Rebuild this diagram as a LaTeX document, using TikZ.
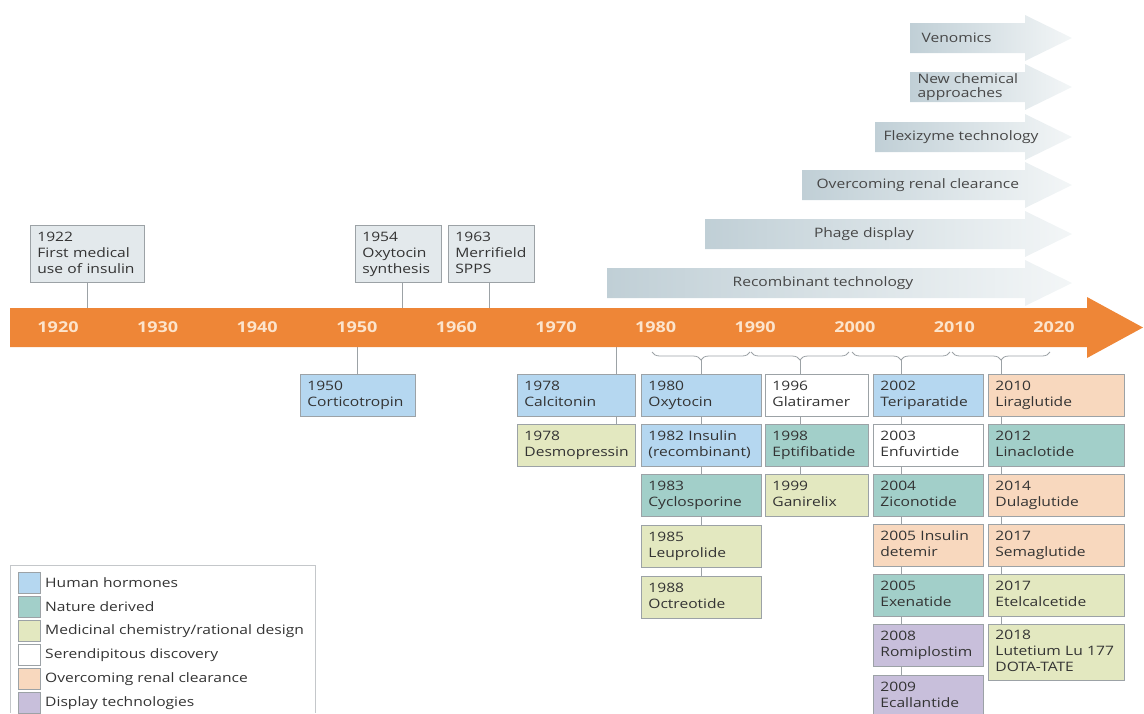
\documentclass[tikz,border=0pt]{standalone}
\usepackage{fontspec}
\setmainfont[FakeStretch=1.2]{Open Sans}
\usetikzlibrary{decorations.pathreplacing}
\pgfdeclarelayer{background}
\pgfsetlayers{background,main}
\hyphenpenalty=10000
\exhyphenpenalty=10000
\definecolor{hh}{HTML}{B5D7F0}
\definecolor{nd}{HTML}{A2CFC9}
\definecolor{mc}{HTML}{E3E8C0}
\definecolor{sd}{HTML}{FFFFFF}
\definecolor{rc}{HTML}{F8D8BE}
\definecolor{dt}{HTML}{C8BFDB}
\definecolor{tb}{HTML}{E3E9EC}
\definecolor{bord}{HTML}{9CA2A6}
\definecolor{orng}{HTML}{EE8637}
\definecolor{yr}{HTML}{FCE4CC}
\definecolor{txt}{HTML}{333333}
\definecolor{techL}{HTML}{C0CFD6}
\definecolor{techR}{HTML}{F3F6F7}
\begin{document}
\begin{tikzpicture}[x=1pt,y=-1pt,
  font=\fontsize{13}{16}\selectfont, text=txt,
  pbox/.style={draw=bord, line width=0.8pt, anchor=north west, align=left,
    inner xsep=7pt, inner ysep=3pt, minimum height=42pt,
    execute at begin node=\strut, execute at end node=\strut},
  topbox/.style={pbox, fill=tb, minimum height=57pt},
  conn/.style={draw=bord, line width=0.8pt},
  brc/.style={decorate, decoration={brace, amplitude=8pt, mirror}, draw=bord, line width=0.8pt},
  yrlab/.style={text=yr, font=\fontsize{15}{16}\selectfont\bfseries},
  techarrow/.style={left color=techL, right color=techR},
  techtext/.style={text=txt!90},
  swatch/.style={draw=bord, line width=0.6pt, minimum width=22pt, minimum height=21pt, inner sep=0pt},
  legtext/.style={anchor=west, inner sep=0pt}]
\useasboundingbox (0,0) rectangle (1144,713);

% technology arrows
\shade[techarrow] (910,23) -- (1025,23) -- (1025,15) -- (1072,38) -- (1025,61) -- (1025,53) -- (910,53) -- cycle;
\node[techtext, anchor=west] (venom) at (918,38) {Venomics};
\shade[techarrow] (910,72) -- (1025,72) -- (1025,64) -- (1072,87) -- (1025,110) -- (1025,102) -- (910,102) -- cycle;
\node[techtext, anchor=west, align=left, font=\fontsize{13}{14}\selectfont] (newchem) at (914,87) {New chemical\\approaches};
\shade[techarrow] (875,122) -- (1025,122) -- (1025,114) -- (1072,137) -- (1025,160) -- (1025,152) -- (875,152) -- cycle;
\node[techtext, anchor=west] (flexi) at (880,137) {Flexizyme technology};
\shade[techarrow] (802,170) -- (1025,170) -- (1025,162) -- (1072,185) -- (1025,208) -- (1025,200) -- (802,200) -- cycle;
\node[techtext, anchor=west] (renal) at (813,185) {Overcoming renal clearance};
\shade[techarrow] (705,219) -- (1025,219) -- (1025,211) -- (1072,234) -- (1025,257) -- (1025,249) -- (705,249) -- cycle;
\node[techtext] (phage) at (864,234) {Phage display};
\shade[techarrow] (607,268) -- (1025,268) -- (1025,260) -- (1072,283) -- (1025,306) -- (1025,298) -- (607,298) -- cycle;
\node[techtext] (recomb) at (823,283) {Recombinant technology};

% timeline arrow
\fill[orng] (10,308) -- (1087,308) -- (1087,297) -- (1143,327.5) -- (1087,358) -- (1087,347) -- (10,347) -- cycle;
\foreach \y [count=\i from 0] in {1920,1930,1940,1950,1960,1970,1980,1990,2000,2010,2020}
  \node[yrlab] (y\y) at (58+99.6*\i,327.5) {\y};

% top boxes
\node[topbox, text width=100pt] (t1922) at (30,225) {1922\\First medical\\use of insulin};
\node[topbox, text width=72pt] (t1954) at (355,225) {1954\\Oxytocin\\synthesis};
\node[topbox, text width=72pt] (t1963) at (448,225) {1963\\Merrifield\\SPPS};
\coordinate (a1922) at (87,308);
\coordinate (a1954) at (402,308);
\coordinate (a1963) at (489,308);

% lower boxes
\node[pbox, fill=hh, text width=101pt] (b1950) at (300,374) {1950\\Corticotropin};

\node[pbox, fill=hh, text width=104pt] (c1a) at (517,374) {1978\\Calcitonin};
\node[pbox, fill=mc, text width=104pt] (c1b) at (517,424) {1978\\Desmopressin};

\node[pbox, fill=hh, text width=106pt] (c2a) at (641,374) {1980\\Oxytocin};
\node[pbox, fill=hh, text width=106pt] (c2b) at (641,424) {1982 Insulin\\(recombinant)};
\node[pbox, fill=nd, text width=106pt] (c2c) at (641,474) {1983\\Cyclosporine};
\node[pbox, fill=mc, text width=106pt] (c2d) at (641,525) {1985\\Leuprolide};
\node[pbox, fill=mc, text width=106pt] (c2e) at (641,576) {1988\\Octreotide};

\node[pbox, fill=sd, text width=89pt] (c3a) at (765,374) {1996\\Glatiramer};
\node[pbox, fill=nd, text width=89pt] (c3b) at (765,424) {1998\\Eptifibatide};
\node[pbox, fill=mc, text width=89pt] (c3c) at (765,474) {1999\\Ganirelix};

\node[pbox, fill=hh, text width=96pt] (c4a) at (873,374) {2002\\Teriparatide};
\node[pbox, fill=sd, text width=96pt] (c4b) at (873,424) {2003\\Enfuvirtide};
\node[pbox, fill=nd, text width=96pt] (c4c) at (873,474) {2004\\Ziconotide};
\node[pbox, fill=rc, text width=96pt] (c4d) at (873,524) {2005 Insulin\\detemir};
\node[pbox, fill=nd, text width=96pt] (c4e) at (873,574) {2005\\Exenatide};
\node[pbox, fill=dt, text width=96pt] (c4f) at (873,624) {2008\\Romiplostim};
\node[pbox, fill=dt, text width=96pt] (c4g) at (873,675) {2009\\Ecallantide};

\node[pbox, fill=rc, text width=122pt] (c5a) at (988,374) {2010\\Liraglutide};
\node[pbox, fill=nd, text width=122pt] (c5b) at (988,424) {2012\\Linaclotide};
\node[pbox, fill=rc, text width=122pt] (c5c) at (988,474) {2014\\Dulaglutide};
\node[pbox, fill=rc, text width=122pt] (c5d) at (988,524) {2017\\Semaglutide};
\node[pbox, fill=mc, text width=122pt] (c5e) at (988,574) {2017\\Etelcalcetide};
\node[pbox, fill=mc, text width=122pt, minimum height=56pt] (c5f) at (988,624) {2018\\Lutetium Lu 177\\DOTA-TATE};

% braces
\coordinate (br1s) at (652,352); \coordinate (br1e) at (750,352);
\coordinate (br2s) at (751,352); \coordinate (br2e) at (849,352);
\coordinate (br3s) at (852,352); \coordinate (br3e) at (950,352);
\coordinate (br4s) at (952,352); \coordinate (br4e) at (1050,352);
\draw[brc] (br1s) -- (br1e);
\draw[brc] (br2s) -- (br2e);
\draw[brc] (br3s) -- (br3e);
\draw[brc] (br4s) -- (br4e);
\coordinate (k2) at (701,360);
\coordinate (k3) at (800,360);
\coordinate (k4) at (901,360);
\coordinate (k5) at (1001,360);
\coordinate (k0) at (357,347);
\coordinate (k1) at (616,347);

\begin{pgfonlayer}{background}
\draw[conn] (t1922.south -| a1922) -- (a1922);
\draw[conn] (t1954.south -| a1954) -- (a1954);
\draw[conn] (t1963.south -| a1963) -- (a1963);
\draw[conn] (k0) -- (b1950.north -| k0);
\draw[conn] (k1) -- (c1b.north -| k1);
\draw[conn] (k2) -- (c2e.north -| k2);
\draw[conn] (k3) -- (c3c.north -| k3);
\draw[conn] (k4) -- (c4g.north -| k4);
\draw[conn] (k5) -- (c5f.north -| k5);
\end{pgfonlayer}

% legend
\draw[draw=bord!60, line width=0.8pt] (10,713) -- (10,565) -- (315,565) -- (315,713);
\node[swatch, fill=hh] (s1) at (29,583) {};
\node[swatch, fill=nd] (s2) at (29,607) {};
\node[swatch, fill=mc] (s3) at (29,631) {};
\node[swatch, fill=sd] (s4) at (29,655) {};
\node[swatch, fill=rc] (s5) at (29,679) {};
\node[swatch, fill=dt] (s6) at (29,703) {};
\node[legtext] (l1) at (45,583) {Human hormones};
\node[legtext] (l2) at (45,607) {Nature derived};
\node[legtext] (l3) at (45,631) {Medicinal chemistry/rational design};
\node[legtext] (l4) at (45,655) {Serendipitous discovery};
\node[legtext] (l5) at (45,679) {Overcoming renal clearance};
\node[legtext] (l6) at (45,703) {Display technologies};
\end{tikzpicture}
\end{document}
